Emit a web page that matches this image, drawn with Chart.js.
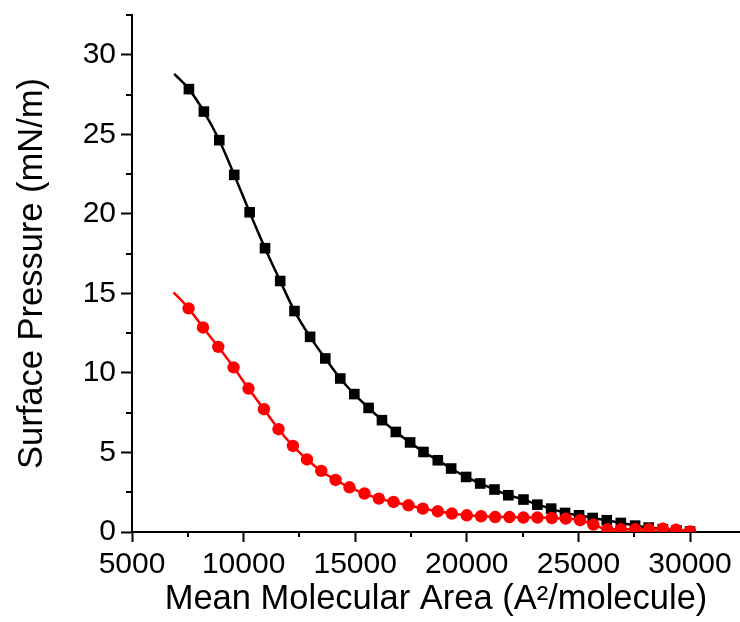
<!DOCTYPE html>
<html>
<head>
<meta charset="utf-8">
<script src="https://cdn.jsdelivr.net/npm/chart.js@4/dist/chart.umd.min.js"></script>
<style>
  body { margin: 0; background: #fff; }
  canvas { display: block; }
</style>
</head>
<body>
<canvas id="isotherm" width="740" height="622"></canvas>
<script>
// Isotherm data: area per molecule vs surface pressure
// first entry of each series is where the fitted line starts (no marker)
const areaBlack = [6890, 7550, 8220, 8910, 9580, 10270, 10960, 11640, 12280, 12980,
  13660, 14330, 14960, 15600, 16200, 16820, 17460, 18060, 18700, 19300,
  19970, 20600, 21240, 21860, 22540, 23160, 23780, 24400, 25030, 25640,
  26270, 26900, 27540, 28150, 28780, 29400, 30000];
const pressureBlack = [28.8, 27.84, 26.43, 24.63, 22.45, 20.10, 17.84, 15.78, 13.89, 12.27,
  10.91, 9.65, 8.67, 7.80, 7.03, 6.29, 5.63, 5.03, 4.51, 3.99,
  3.46, 3.05, 2.67, 2.31, 2.04, 1.72, 1.47, 1.20, 1.05, 0.88,
  0.74, 0.57, 0.40, 0.28, 0.18, 0.09, 0.03];

const areaRed = [6860, 7535, 8180, 8865, 9550, 10220, 10910, 11565, 12210, 12840,
  13480, 14120, 14745, 15415, 16060, 16715, 17385, 18030, 18700, 19330,
  20000, 20640, 21270, 21910, 22535, 23165, 23810, 24435, 25075, 25670,
  26300, 26900, 27540, 28165, 28780, 29375, 30000];
const pressureRed = [15.07, 14.06, 12.86, 11.64, 10.35, 9.02, 7.72, 6.46, 5.41, 4.56,
  3.84, 3.27, 2.81, 2.42, 2.10, 1.89, 1.68, 1.47, 1.30, 1.16,
  1.05, 0.99, 0.94, 0.94, 0.91, 0.91, 0.88, 0.84, 0.74, 0.47,
  0.17, 0.17, 0.17, 0.17, 0.21, 0.15, 0.04];

const xTickValues = [5000, 10000, 15000, 20000, 25000, 30000];
const yTickValues = [0, 5, 10, 15, 20, 25, 30];
const xRange = [5000, 32240];
const yRange = [0, 32.5];

const FONT = '"Liberation Sans", Arial, sans-serif';

function toPoints(xs, ys) {
  return xs.map((x, i) => ({ x: x, y: ys[i] }));
}

// Chart.js has no minor ticks, so draw the half-step marks by hand
const minorTicks = {
  id: 'minorTicks',
  afterDraw(chart) {
    const { ctx, scales: { x, y }, chartArea } = chart;
    const xHalf = (xTickValues[1] - xTickValues[0]) / 2;
    const yHalf = (yTickValues[1] - yTickValues[0]) / 2;
    ctx.save();
    ctx.strokeStyle = '#000';
    ctx.lineWidth = 2;
    ctx.beginPath();
    for (let v = xRange[0] + xHalf; v <= xRange[1]; v += 2 * xHalf) {
      const px = Math.round(x.getPixelForValue(v));
      ctx.moveTo(px, chartArea.bottom);
      ctx.lineTo(px, chartArea.bottom + 5);
    }
    for (let v = yRange[0] + yHalf; v <= yRange[1] + 0.01; v += 2 * yHalf) {
      const py = Math.round(y.getPixelForValue(v));
      ctx.moveTo(chartArea.left, py);
      ctx.lineTo(chartArea.left - 6, py);
    }
    ctx.stroke();
    ctx.restore();
  }
};

const ctx = document.getElementById('isotherm').getContext('2d');
new Chart(ctx, {
  type: 'line',
  data: {
    datasets: [
      {
        label: 'red',
        data: toPoints(areaRed, pressureRed),
        borderColor: '#ff0000',
        backgroundColor: '#ff0000',
        borderWidth: 2.5,
        pointStyle: 'circle',
        pointRadius: c => c.dataIndex === 0 ? 0 : 6.2,
        pointBorderWidth: 0,
        cubicInterpolationMode: 'monotone',
        clip: 0
      },
      {
        label: 'black',
        data: toPoints(areaBlack, pressureBlack),
        borderColor: '#000',
        backgroundColor: '#000',
        borderWidth: 2.5,
        pointStyle: 'rect',
        pointRadius: c => c.dataIndex === 0 ? 0 : 7.5,
        pointBorderWidth: 0,
        cubicInterpolationMode: 'monotone',
        clip: 0
      }
    ]
  },
  options: {
    responsive: false,
    animation: false,
    layout: { autoPadding: false, padding: { top: 15, right: 0, left: 0, bottom: 0 } },
    plugins: { legend: { display: false }, tooltip: { enabled: false } },
    scales: {
      x: {
        type: 'linear',
        min: xRange[0],
        max: xRange[1],
        afterBuildTicks: s => { s.ticks = xTickValues.map(v => ({ value: v })); },
        afterFit: s => {
          s.height = 90;
          s.paddingLeft = 0;
          s.paddingRight = 0;
        },
        border: { display: true, color: '#000', width: 2 },
        grid: { drawOnChartArea: false, drawTicks: true, tickLength: 10, tickColor: '#000', tickWidth: 2 },
        ticks: {
          color: '#000',
          padding: 5,
          maxRotation: 0,
          autoSkip: false,
          font: { family: FONT, size: 30 },
          callback: v => String(v)
        },
        title: {
          display: true,
          text: 'Mean Molecular Area (A²/molecule)',
          color: '#000',
          font: { family: FONT, size: 34.5, lineHeight: 1 },
          padding: { top: 0, bottom: 5 }
        }
      },
      y: {
        type: 'linear',
        min: yRange[0],
        max: yRange[1],
        afterBuildTicks: s => { s.ticks = yTickValues.map(v => ({ value: v })); },
        afterFit: s => {
          s.width = 132;
          s.paddingTop = 0;
          s.paddingBottom = 0;
        },
        border: { display: true, color: '#000', width: 2 },
        grid: { drawOnChartArea: false, drawTicks: true, tickLength: 11, tickColor: '#000', tickWidth: 2 },
        ticks: {
          color: '#000',
          padding: 5,
          autoSkip: false,
          font: { family: FONT, size: 30 }
        },
        title: {
          display: true,
          text: 'Surface Pressure (mN/m)',
          color: '#000',
          font: { family: FONT, size: 34.5, lineHeight: 1 },
          padding: { top: 15, bottom: 0 }
        }
      }
    }
  },
  plugins: [minorTicks]
});
</script>
</body>
</html>
